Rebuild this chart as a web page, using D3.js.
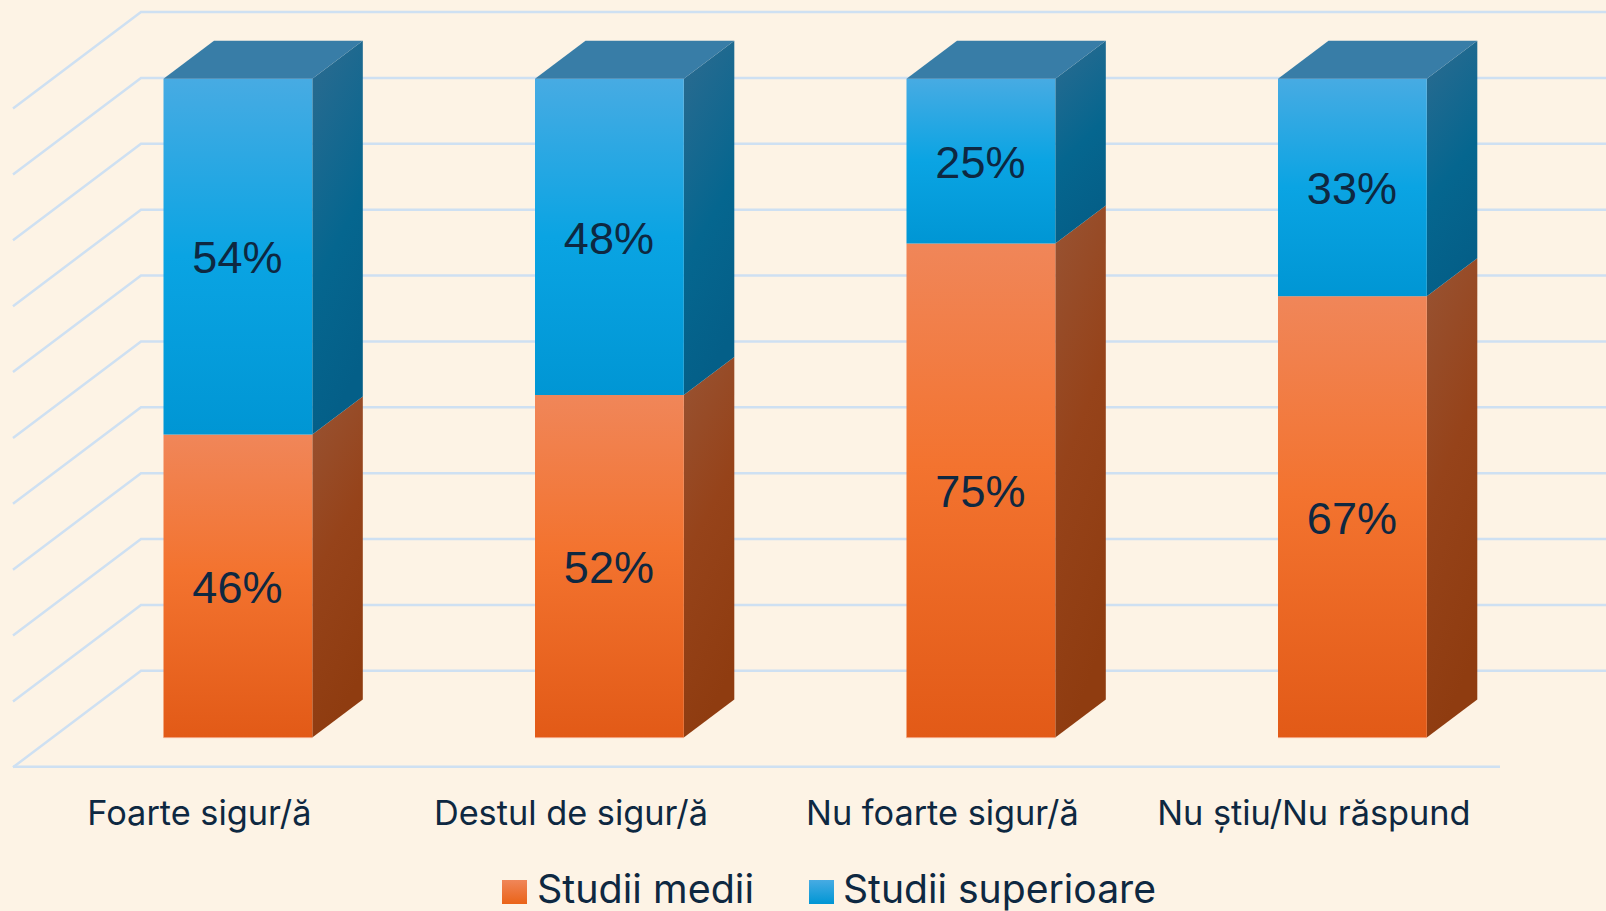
<!DOCTYPE html>
<html><head><meta charset="utf-8">
<script src="https://cdn.jsdelivr.net/npm/d3@7"></script>
<style>html,body{margin:0;padding:0;background:#fdf3e5;overflow:hidden}svg{display:block}</style>
</head><body><svg id="c" width="1606" height="911"></svg>
<script>
const categories=["Foarte sigur/ă","Destul de sigur/ă","Nu foarte sigur/ă","Nu știu/Nu răspund"];
const seriesNames=["Studii medii","Studii superioare"];
const mediiValues=[46,52,75,67];
const superioareValues=[54,48,25,33];
const gridTicks=[0,10,20,30,40,50,60,70,80,90,100];

const W=1606,H=911;
const svg=d3.select("#c");
const y=d3.scaleLinear().domain([0,100]).range([737.6,78.8]);
const barW=148.8, dx=50.5, dy=38;
const xs=d3.scalePoint().domain(categories).range([163.5,1278]);

const defs=svg.append("defs");
function lin(id,stops,x2=0,y2=1){
  const g=defs.append("linearGradient").attr("id",id).attr("x1",0).attr("y1",0).attr("x2",x2).attr("y2",y2);
  stops.forEach(s=>g.append("stop").attr("offset",s[0]).attr("stop-color",s[1]));
}
lin("fo",[[0,"#f08659"],[0.45,"#f3732f"],[1,"#e25a17"]]);
lin("fb",[[0,"#47abe3"],[0.5,"#0aa4e3"],[1,"#0096d4"]]);
lin("so",[[0,"#985333"],[0.5,"#96431a"],[1,"#8f3c10"]],0.25,1);
lin("sb",[[0,"#2d6b90"],[0.6,"#05668f"],[1,"#045f88"]],0.25,1);
lin("lo",[[0,"#f08659"],[1,"#ea6318"]]);
lin("lb",[[0,"#47abe3"],[1,"#0096d4"]]);

const gridCol="#cee0f2";
const g=svg.append("g").attr("fill","none").attr("stroke",gridCol).attr("stroke-width",2.5);
gridTicks.forEach(t=>{
  const yy=y(t)-66.8;
  g.append("path").attr("d",d3.line()([[13,yy+96.5],[141,yy],[W,yy]]));
});
g.append("path").attr("d",d3.line()([[13,y(0)+29.2],[1500,y(0)+29.2]]));

const bars=svg.append("g");
const ink="#0e2841";
categories.forEach((c,i)=>{
  const x0=xs(c),x1=x0+barW;
  const v0=mediiValues[i],v1=v0+superioareValues[i];
  [[0,v0,"fo","so"],[v0,v1,"fb","sb"]].forEach(([a,b,f,s])=>{
    const top=y(b),bot=y(a);
    bars.append("path").attr("fill",`url(#${s})`)
      .attr("d",d3.line()([[x1,top],[x1+dx,top-dy],[x1+dx,bot-dy],[x1,bot]])+"Z");
    bars.append("rect").attr("x",x0).attr("y",top).attr("width",barW).attr("height",bot-top).attr("fill",`url(#${f})`);
  });
  bars.append("path").attr("fill","#387da7")
    .attr("d",d3.line()([[x0,y(v1)],[x0+dx,y(v1)-dy],[x1+dx,y(v1)-dy],[x1,y(v1)]])+"Z");
  bars.append("line").attr("x1",x0).attr("x2",x1).attr("y1",y(0)).attr("y2",y(0)).attr("stroke","#f2a27e").attr("stroke-width",1);
  const cx=x0+barW/2-0.5;
  [[v0/2,v0],[v0+superioareValues[i]/2,superioareValues[i]]].forEach(([p,val])=>{
    bars.append("text").attr("x",cx).attr("y",y(p)+16.6).attr("text-anchor","middle")
      .attr("font-family","Liberation Sans").attr("font-size",45).attr("fill",ink).text(val+"%");
  });
  svg.append("text").attr("x",x0+barW/2-38.5).attr("y",825).attr("text-anchor","middle")
    .attr("font-family","Inter").attr("font-size",34.3).attr("fill",ink).text(c);
});

const leg=svg.append("g");
const legendItems=[{sx:502,tx:537,len:217,f:"lo"},{sx:809,tx:843,len:313,f:"lb"}];
legendItems.forEach((d,i)=>{
  leg.append("rect").attr("x",d.sx).attr("y",880).attr("width",25).attr("height",24).attr("fill",`url(#${d.f})`);
  leg.append("text").attr("x",d.tx).attr("y",903).attr("font-family","Inter").attr("font-size",39)
    .attr("textLength",d.len).attr("lengthAdjust","spacingAndGlyphs").attr("fill",ink).text(seriesNames[i]);
});
</script></body></html>
